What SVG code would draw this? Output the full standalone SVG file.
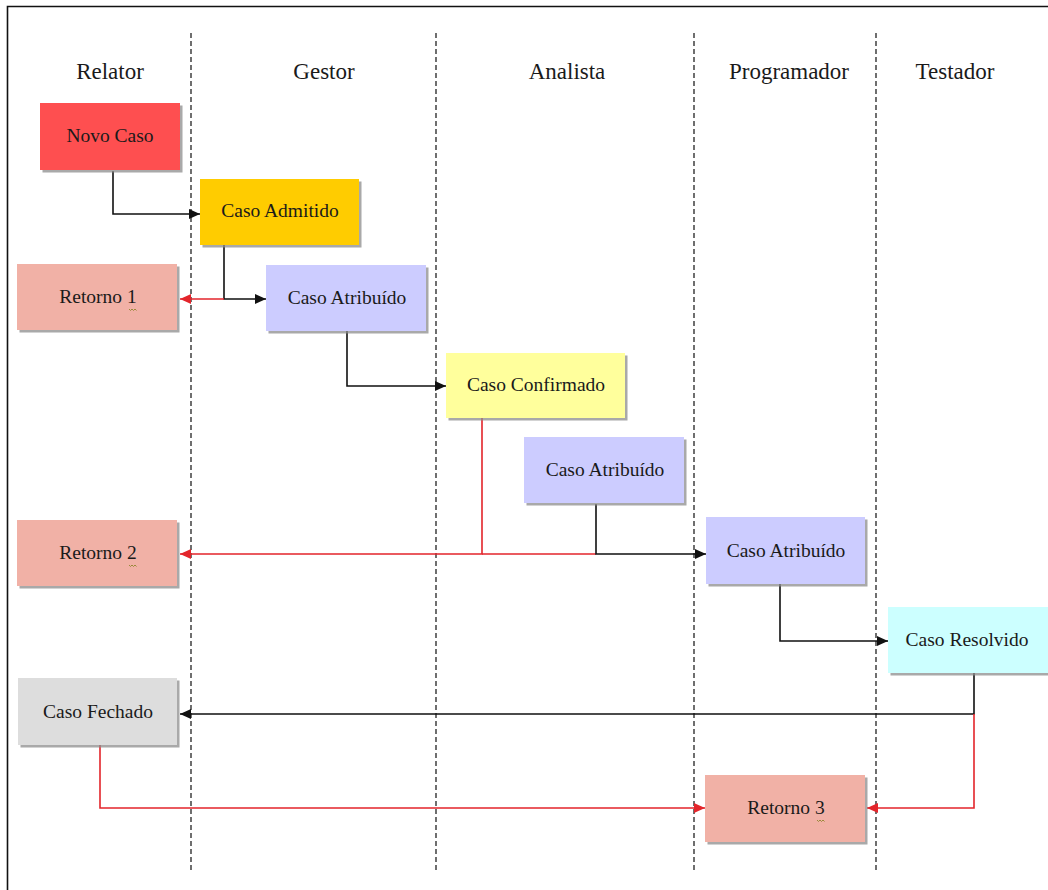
<svg xmlns="http://www.w3.org/2000/svg" width="1048" height="890" viewBox="0 0 1048 890">
  <style>
    .frame { fill: none; stroke: #111; stroke-width: 1.6; }
    .lane { stroke: #222; stroke-width: 1.3; stroke-dasharray: 5 3; fill: none; }
    .hdr { font-family: "Liberation Serif", "Times New Roman", serif; font-size: 23px; fill: #1a1a1a; text-anchor: middle; }
    .lbl { font-family: "Liberation Serif", "Times New Roman", serif; font-size: 19.5px; fill: #1a1a1a; text-anchor: middle; }
    .shadow { fill: #8c8c8c; opacity: 0.75; }
    .ok { fill: none; stroke: #111; stroke-width: 1.6; marker-end: url(#arrowBlack); }
    .back { fill: none; stroke: #e3252b; stroke-width: 1.6; }
    .backArrow { marker-end: url(#arrowRed); }
    .squiggle { fill: none; stroke: #9a8a3a; stroke-width: 1; }
    .red { fill: #fe4f50; }
    .amber { fill: #ffcc00; }
    .salmon { fill: #f1b1a6; }
    .lilac { fill: #ccccff; }
    .lemon { fill: #ffff9c; }
    .cyan { fill: #ccffff; }
    .grey { fill: #dddddd; }
  </style>
  <defs>
    <marker id="arrowBlack" markerUnits="userSpaceOnUse" markerWidth="14" markerHeight="14" refX="11" refY="5.5" orient="auto">
      <path d="M0,0.5 L11,5.5 L0,10.5 Z" fill="#111"/>
    </marker>
    <marker id="arrowRed" markerUnits="userSpaceOnUse" markerWidth="14" markerHeight="14" refX="11" refY="5.5" orient="auto">
      <path d="M0,0.5 L11,5.5 L0,10.5 Z" fill="#e3252b"/>
    </marker>
  </defs>

  <rect width="1048" height="890" fill="#ffffff"/>
  <path class="frame" d="M7.5,890 V6.5 H1048"/>

  <!-- swimlane separators -->
  <g id="lanes">
    <line class="lane" x1="191" y1="33" x2="191" y2="870"/>
    <line class="lane" x1="436" y1="33" x2="436" y2="870"/>
    <line class="lane" x1="694" y1="33" x2="694" y2="870"/>
    <line class="lane" x1="876" y1="33" x2="876" y2="870"/>
  </g>

  <!-- lane titles -->
  <g id="headers">
    <text class="hdr" x="110" y="79">Relator</text>
    <text class="hdr" x="324" y="79">Gestor</text>
    <text class="hdr" x="567" y="79">Analista</text>
    <text class="hdr" x="789" y="79">Programador</text>
    <text class="hdr" x="955" y="79">Testador</text>
  </g>

  <!-- connectors -->
  <g id="connectors">
    <path class="ok" d="M113,171 V214 H200"/>
    <path class="ok" d="M224,245 V299 H266"/>
    <path class="back backArrow" d="M224,299 H180"/>
    <path class="ok" d="M347,331 V386 H446"/>
    <path class="back backArrow" d="M482,418 V554 H180"/>
    <path class="back" d="M596,554 H482"/>
    <path class="ok" d="M596,504 V554 H706"/>
    <path class="ok" d="M780,584 V641 H888"/>
    <path class="ok" d="M974,673 V714 H180"/>
    <path class="back backArrow" d="M974,714 V808 H867"/>
    <path class="back backArrow" d="M100,745 V808 H705"/>
  </g>

  <g id="novo-caso">
    <rect class="shadow" x="42.5" y="105.5" width="140" height="67"/>
    <rect class="red" x="40" y="103" width="140" height="67"/>
    <text class="lbl" x="110" y="142">Novo Caso</text>
  </g>

  <g id="caso-admitido">
    <rect class="shadow" x="202.5" y="181.5" width="159" height="66"/>
    <rect class="amber" x="200" y="179" width="159" height="66"/>
    <text class="lbl" x="280" y="217">Caso Admitido</text>
  </g>

  <g id="retorno-1">
    <rect class="shadow" x="19.5" y="266.5" width="160" height="66"/>
    <rect class="salmon" x="17" y="264" width="160" height="66"/>
    <text class="lbl" x="98" y="303">Retorno 1</text>
    <path class="squiggle" d="M129,309 l1.5,1.5 l1.5,-1.5 l1.5,1.5 l1.5,-1.5 l1.5,1.5"/>
  </g>

  <g id="caso-atribuido-gestor">
    <rect class="shadow" x="268.5" y="267.5" width="160" height="66"/>
    <rect class="lilac" x="266" y="265" width="160" height="66"/>
    <text class="lbl" x="347" y="304">Caso Atribuído</text>
  </g>

  <g id="caso-confirmado">
    <rect class="shadow" x="448.5" y="355.5" width="179" height="65"/>
    <rect class="lemon" x="446" y="353" width="179" height="65"/>
    <text class="lbl" x="536" y="391">Caso Confirmado</text>
  </g>

  <g id="caso-atribuido-analista">
    <rect class="shadow" x="526.5" y="439.5" width="160" height="66"/>
    <rect class="lilac" x="524" y="437" width="160" height="66"/>
    <text class="lbl" x="605" y="476">Caso Atribuído</text>
  </g>

  <g id="retorno-2">
    <rect class="shadow" x="19.5" y="522.5" width="160" height="66"/>
    <rect class="salmon" x="17" y="520" width="160" height="66"/>
    <text class="lbl" x="98" y="559">Retorno 2</text>
    <path class="squiggle" d="M129,565 l1.5,1.5 l1.5,-1.5 l1.5,1.5 l1.5,-1.5 l1.5,1.5"/>
  </g>

  <g id="caso-atribuido-programador">
    <rect class="shadow" x="708.5" y="519.5" width="159" height="67"/>
    <rect class="lilac" x="706" y="517" width="159" height="67"/>
    <text class="lbl" x="786" y="557">Caso Atribuído</text>
  </g>

  <g id="caso-resolvido">
    <rect class="shadow" x="890.5" y="609.5" width="160" height="66"/>
    <rect class="cyan" x="888" y="607" width="160" height="66"/>
    <text class="lbl" x="967" y="646">Caso Resolvido</text>
  </g>

  <g id="caso-fechado">
    <rect class="shadow" x="20.5" y="680.5" width="159" height="67"/>
    <rect class="grey" x="18" y="678" width="159" height="67"/>
    <text class="lbl" x="98" y="718">Caso Fechado</text>
  </g>

  <g id="retorno-3">
    <rect class="shadow" x="707.5" y="777.5" width="160" height="67"/>
    <rect class="salmon" x="705" y="775" width="160" height="67"/>
    <text class="lbl" x="786" y="814">Retorno 3</text>
    <path class="squiggle" d="M817,820 l1.5,1.5 l1.5,-1.5 l1.5,1.5 l1.5,-1.5 l1.5,1.5"/>
  </g>
</svg>
